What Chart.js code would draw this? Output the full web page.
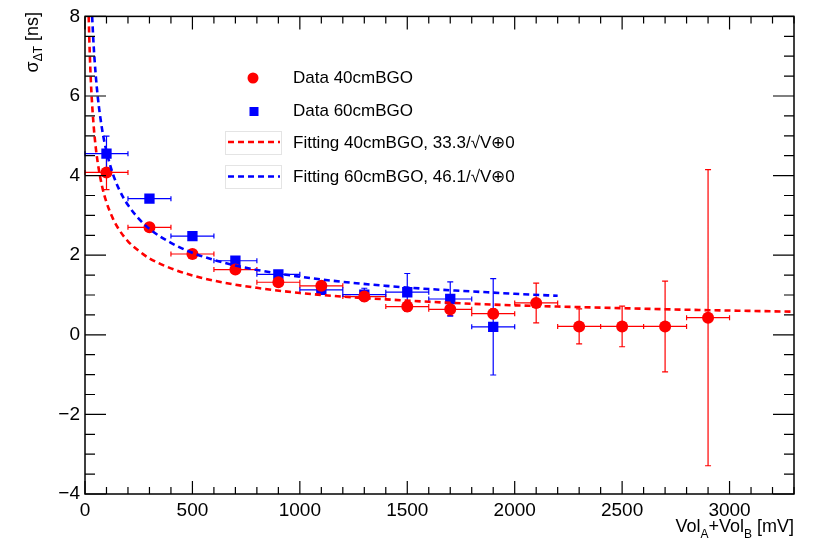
<!DOCTYPE html>
<html>
<head>
<meta charset="utf-8">
<title>Time resolution vs amplitude</title>
<script src="https://cdn.jsdelivr.net/npm/chart.js@4/dist/chart.umd.min.js"></script>
<style>
  html, body { margin: 0; padding: 0; background: #fff; }
  canvas { display: block; }
</style>
</head>
<body>
<canvas id="resChart" width="820" height="542"></canvas>
<script>
// measured points: amplitude bin centres [mV], resolution [ns] and its error
const volt40 = [100, 300, 500, 700, 900, 1100, 1300, 1500, 1700, 1900, 2100, 2300, 2500, 2700, 2900];
const sigma40 = [4.08, 2.70, 2.03, 1.64, 1.32, 1.23, 0.96, 0.71, 0.64, 0.53, 0.80, 0.21, 0.21, 0.21, 0.43];
const sigmaErr40 = [0.43, 0.08, 0.08, 0.08, 0.08, 0.10, 0.10, 0.12, 0.15, 0.12, 0.50, 0.44, 0.51, 1.14, 3.72];

const volt60 = [100, 300, 500, 700, 900, 1100, 1300, 1500, 1700, 1900];
const sigma60 = [4.55, 3.42, 2.48, 1.86, 1.52, 1.13, 1.01, 1.07, 0.90, 0.20];
const sigmaErr60 = [0.44, 0.08, 0.08, 0.08, 0.08, 0.10, 0.16, 0.47, 0.43, 1.21];

const binHalfWidth = 100;

// fitted curves, sampled along the amplitude axis
const fitVolt40 = [17.3, 20, 25, 30, 40, 50, 60, 80, 100, 130, 160, 200, 250, 300, 400, 500, 600, 700, 800, 1000, 1200, 1400, 1600, 1800, 2000, 2200, 2500, 2800, 3100, 3300];
const fitSigma40 = [8.00, 7.45, 6.66, 6.08, 5.27, 4.71, 4.30, 3.72, 3.33, 2.92, 2.63, 2.35, 2.11, 1.92, 1.67, 1.49, 1.36, 1.26, 1.18, 1.05, 0.96, 0.89, 0.83, 0.78, 0.74, 0.71, 0.67, 0.63, 0.60, 0.58];
const fitVolt60 = [33.2, 40, 50, 60, 80, 100, 130, 160, 200, 250, 300, 400, 500, 600, 700, 800, 1000, 1200, 1400, 1600, 1800, 2000, 2200];
const fitSigma60 = [8.00, 7.29, 6.52, 5.95, 5.15, 4.61, 4.04, 3.64, 3.26, 2.92, 2.66, 2.31, 2.06, 1.88, 1.74, 1.63, 1.46, 1.33, 1.23, 1.15, 1.09, 1.03, 0.98];

// axis labels
const xTickValues = [0, 500, 1000, 1500, 2000, 2500, 3000];
const yTickValues = [-4, -2, 0, 2, 4, 6, 8];

const legendLabels = ['Data 40cmBGO', 'Data 60cmBGO', 'Fitting 40cmBGO, 33.3/\u221AV\u22950', 'Fitting 60cmBGO, 46.1/\u221AV\u22950'];

const RED = '#ff0000';
const BLUE = '#0000ff';
const FONT = '"Liberation Sans", Arial, Helvetica, sans-serif';

function toPoints(xs, ys) {
    return xs.map((x, i) => ({ x: x, y: ys[i] }));
}

// error bars go under the markers
function drawErrors(ctx, xs, xScale, yScale, ys, errs, color) {
    ctx.strokeStyle = color;
    ctx.lineWidth = 1.2;
    ctx.beginPath();
    for (let i = 0; i < xs.length; i++) {
        const px = xScale.getPixelForValue(xs[i]);
        const py = yScale.getPixelForValue(ys[i]);
        const x0 = xScale.getPixelForValue(xs[i] - binHalfWidth);
        const x1 = xScale.getPixelForValue(xs[i] + binHalfWidth);
        const y0 = yScale.getPixelForValue(ys[i] - errs[i]);
        const y1 = yScale.getPixelForValue(ys[i] + errs[i]);
        ctx.moveTo(x0, py); ctx.lineTo(x1, py);
        ctx.moveTo(x0, py - 2.5); ctx.lineTo(x0, py + 2.5);
        ctx.moveTo(x1, py - 2.5); ctx.lineTo(x1, py + 2.5);
        ctx.moveTo(px, y0); ctx.lineTo(px, y1);
        ctx.moveTo(px - 3, y0); ctx.lineTo(px + 3, y0);
        ctx.moveTo(px - 3, y1); ctx.lineTo(px + 3, y1);
    }
    ctx.stroke();
}

// text with subscripts: parts = [[text, isSub], ...]
function partsWidth(ctx, parts, main, sub) {
    let w = 0;
    parts.forEach(p => {
        ctx.font = (p[1] ? sub : main) + 'px ' + FONT;
        w += ctx.measureText(p[0]).width;
    });
    return w;
}
function drawParts(ctx, parts, x, y, main, sub, subShift) {
    let cx = x;
    parts.forEach(p => {
        ctx.font = (p[1] ? sub : main) + 'px ' + FONT;
        ctx.fillText(p[0], cx, y + (p[1] ? subShift : 0));
        cx += ctx.measureText(p[0]).width;
    });
}

const framePlugin = {
    id: 'framePlugin',
    beforeDatasetsDraw(chart) {
        const ctx = chart.ctx;
        const xs = chart.scales.x, ys = chart.scales.y;
        ctx.save();
        drawErrors(ctx, volt40, xs, ys, sigma40, sigmaErr40, RED);
        drawErrors(ctx, volt60, xs, ys, sigma60, sigmaErr60, BLUE);
        ctx.restore();
    },
    afterDraw(chart) {
        const ctx = chart.ctx;
        const a = chart.chartArea;
        const xs = chart.scales.x, ys = chart.scales.y;
        ctx.save();

        // frame
        ctx.strokeStyle = '#000';
        ctx.lineWidth = 1.5;
        ctx.strokeRect(a.left, a.top, a.right - a.left, a.bottom - a.top);

        // inward ticks on all four sides
        ctx.lineWidth = 1.2;
        ctx.beginPath();
        for (let v = 0; v <= 3300; v += 100) {
            const px = xs.getPixelForValue(v);
            const len = v % 500 === 0 ? 13 : 7;
            ctx.moveTo(px, a.bottom); ctx.lineTo(px, a.bottom - len);
            ctx.moveTo(px, a.top); ctx.lineTo(px, a.top + len);
        }
        for (let v = -4; v <= 8; v += 0.5) {
            const py = ys.getPixelForValue(v);
            const len = v % 2 === 0 ? 21 : 10;
            ctx.moveTo(a.left, py); ctx.lineTo(a.left + len, py);
            ctx.moveTo(a.right, py); ctx.lineTo(a.right - len, py);
        }
        ctx.stroke();

        // legend
        ctx.fillStyle = RED;
        ctx.beginPath();
        ctx.arc(253, 78, 5.5, 0, Math.PI * 2);
        ctx.fill();
        ctx.fillStyle = BLUE;
        ctx.fillRect(249.5, 107, 9, 9);

        ctx.strokeStyle = '#e4e4e4';
        ctx.lineWidth = 1;
        ctx.strokeRect(225.5, 131.5, 56, 23);
        ctx.strokeRect(225.5, 165.5, 56, 23);
        ctx.lineWidth = 2.6;
        ctx.setLineDash([6, 4]);
        ctx.strokeStyle = RED;
        ctx.beginPath(); ctx.moveTo(228, 142); ctx.lineTo(280, 142); ctx.stroke();
        ctx.strokeStyle = BLUE;
        ctx.beginPath(); ctx.moveTo(228, 176.5); ctx.lineTo(280, 176.5); ctx.stroke();
        ctx.setLineDash([]);

        ctx.fillStyle = '#000';
        ctx.font = '17px ' + FONT;
        ctx.textBaseline = 'middle';
        ctx.textAlign = 'left';
        const rows = [78, 111.5, 143, 177];
        legendLabels.forEach((t, i) => ctx.fillText(t, 293, rows[i]));

        // axis titles
        ctx.textBaseline = 'alphabetic';
        const xTitle = [['Vol', false], ['A', true], ['+Vol', false], ['B', true], [' [mV]', false]];
        const xw = partsWidth(ctx, xTitle, 18, 12);
        drawParts(ctx, xTitle, a.right - xw, 532, 18, 12, 6);

        const yTitle = [['\u03C3', false], ['\u0394T', true], [' [ns]', false]];
        const yw = partsWidth(ctx, yTitle, 18, 12);
        ctx.translate(38, 12);
        ctx.rotate(-Math.PI / 2);
        drawParts(ctx, yTitle, -yw, 0, 18, 12, 4);

        ctx.restore();
    }
};

const ctx = document.getElementById('resChart').getContext('2d');

const resChart = new Chart(ctx, {
    type: 'scatter',
    data: {
        datasets: [
            {
                label: legendLabels[2],
                data: toPoints(fitVolt40, fitSigma40),
                showLine: true,
                pointRadius: 0,
                borderColor: RED,
                borderWidth: 2.6,
                borderDash: [6, 4],
                cubicInterpolationMode: 'monotone'
            },
            {
                label: legendLabels[3],
                data: toPoints(fitVolt60, fitSigma60),
                showLine: true,
                pointRadius: 0,
                borderColor: BLUE,
                borderWidth: 2.6,
                borderDash: [6, 4],
                cubicInterpolationMode: 'monotone'
            },
            {
                label: legendLabels[0],
                data: toPoints(volt40, sigma40),
                pointStyle: 'circle',
                pointRadius: 6,
                backgroundColor: RED,
                borderColor: RED,
                borderWidth: 0
            },
            {
                label: legendLabels[1],
                data: toPoints(volt60, sigma60),
                pointStyle: 'rect',
                pointRadius: 7.3,
                backgroundColor: BLUE,
                borderColor: BLUE,
                borderWidth: 0
            }
        ]
    },
    options: {
        responsive: false,
        animation: false,
        layout: { padding: { top: 11, right: 26, left: 0, bottom: 0 } },
        plugins: {
            legend: { display: false },
            tooltip: { enabled: false }
        },
        scales: {
            x: {
                type: 'linear',
                min: 0,
                max: 3300,
                grid: { display: false, drawTicks: false },
                border: { display: false },
                ticks: {
                    color: '#000',
                    font: { family: FONT, size: 19 },
                    padding: 5,
                    maxRotation: 0,
                    autoSkip: false,
                    callback: v => String(v)
                },
                afterBuildTicks: s => { s.ticks = xTickValues.map(v => ({ value: v })); },
                afterFit: s => { s.height = 48; }
            },
            y: {
                type: 'linear',
                min: -4,
                max: 8,
                grid: { display: false, drawTicks: false },
                border: { display: false },
                ticks: {
                    color: '#000',
                    font: { family: FONT, size: 19 },
                    padding: 5,
                    autoSkip: false,
                    callback: v => (v < 0 ? '\u2212' + Math.abs(v) : String(v))
                },
                afterBuildTicks: s => { s.ticks = yTickValues.map(v => ({ value: v })); },
                afterFit: s => { s.width = 85; }
            }
        }
    },
    plugins: [framePlugin]
});
</script>
</body>
</html>
